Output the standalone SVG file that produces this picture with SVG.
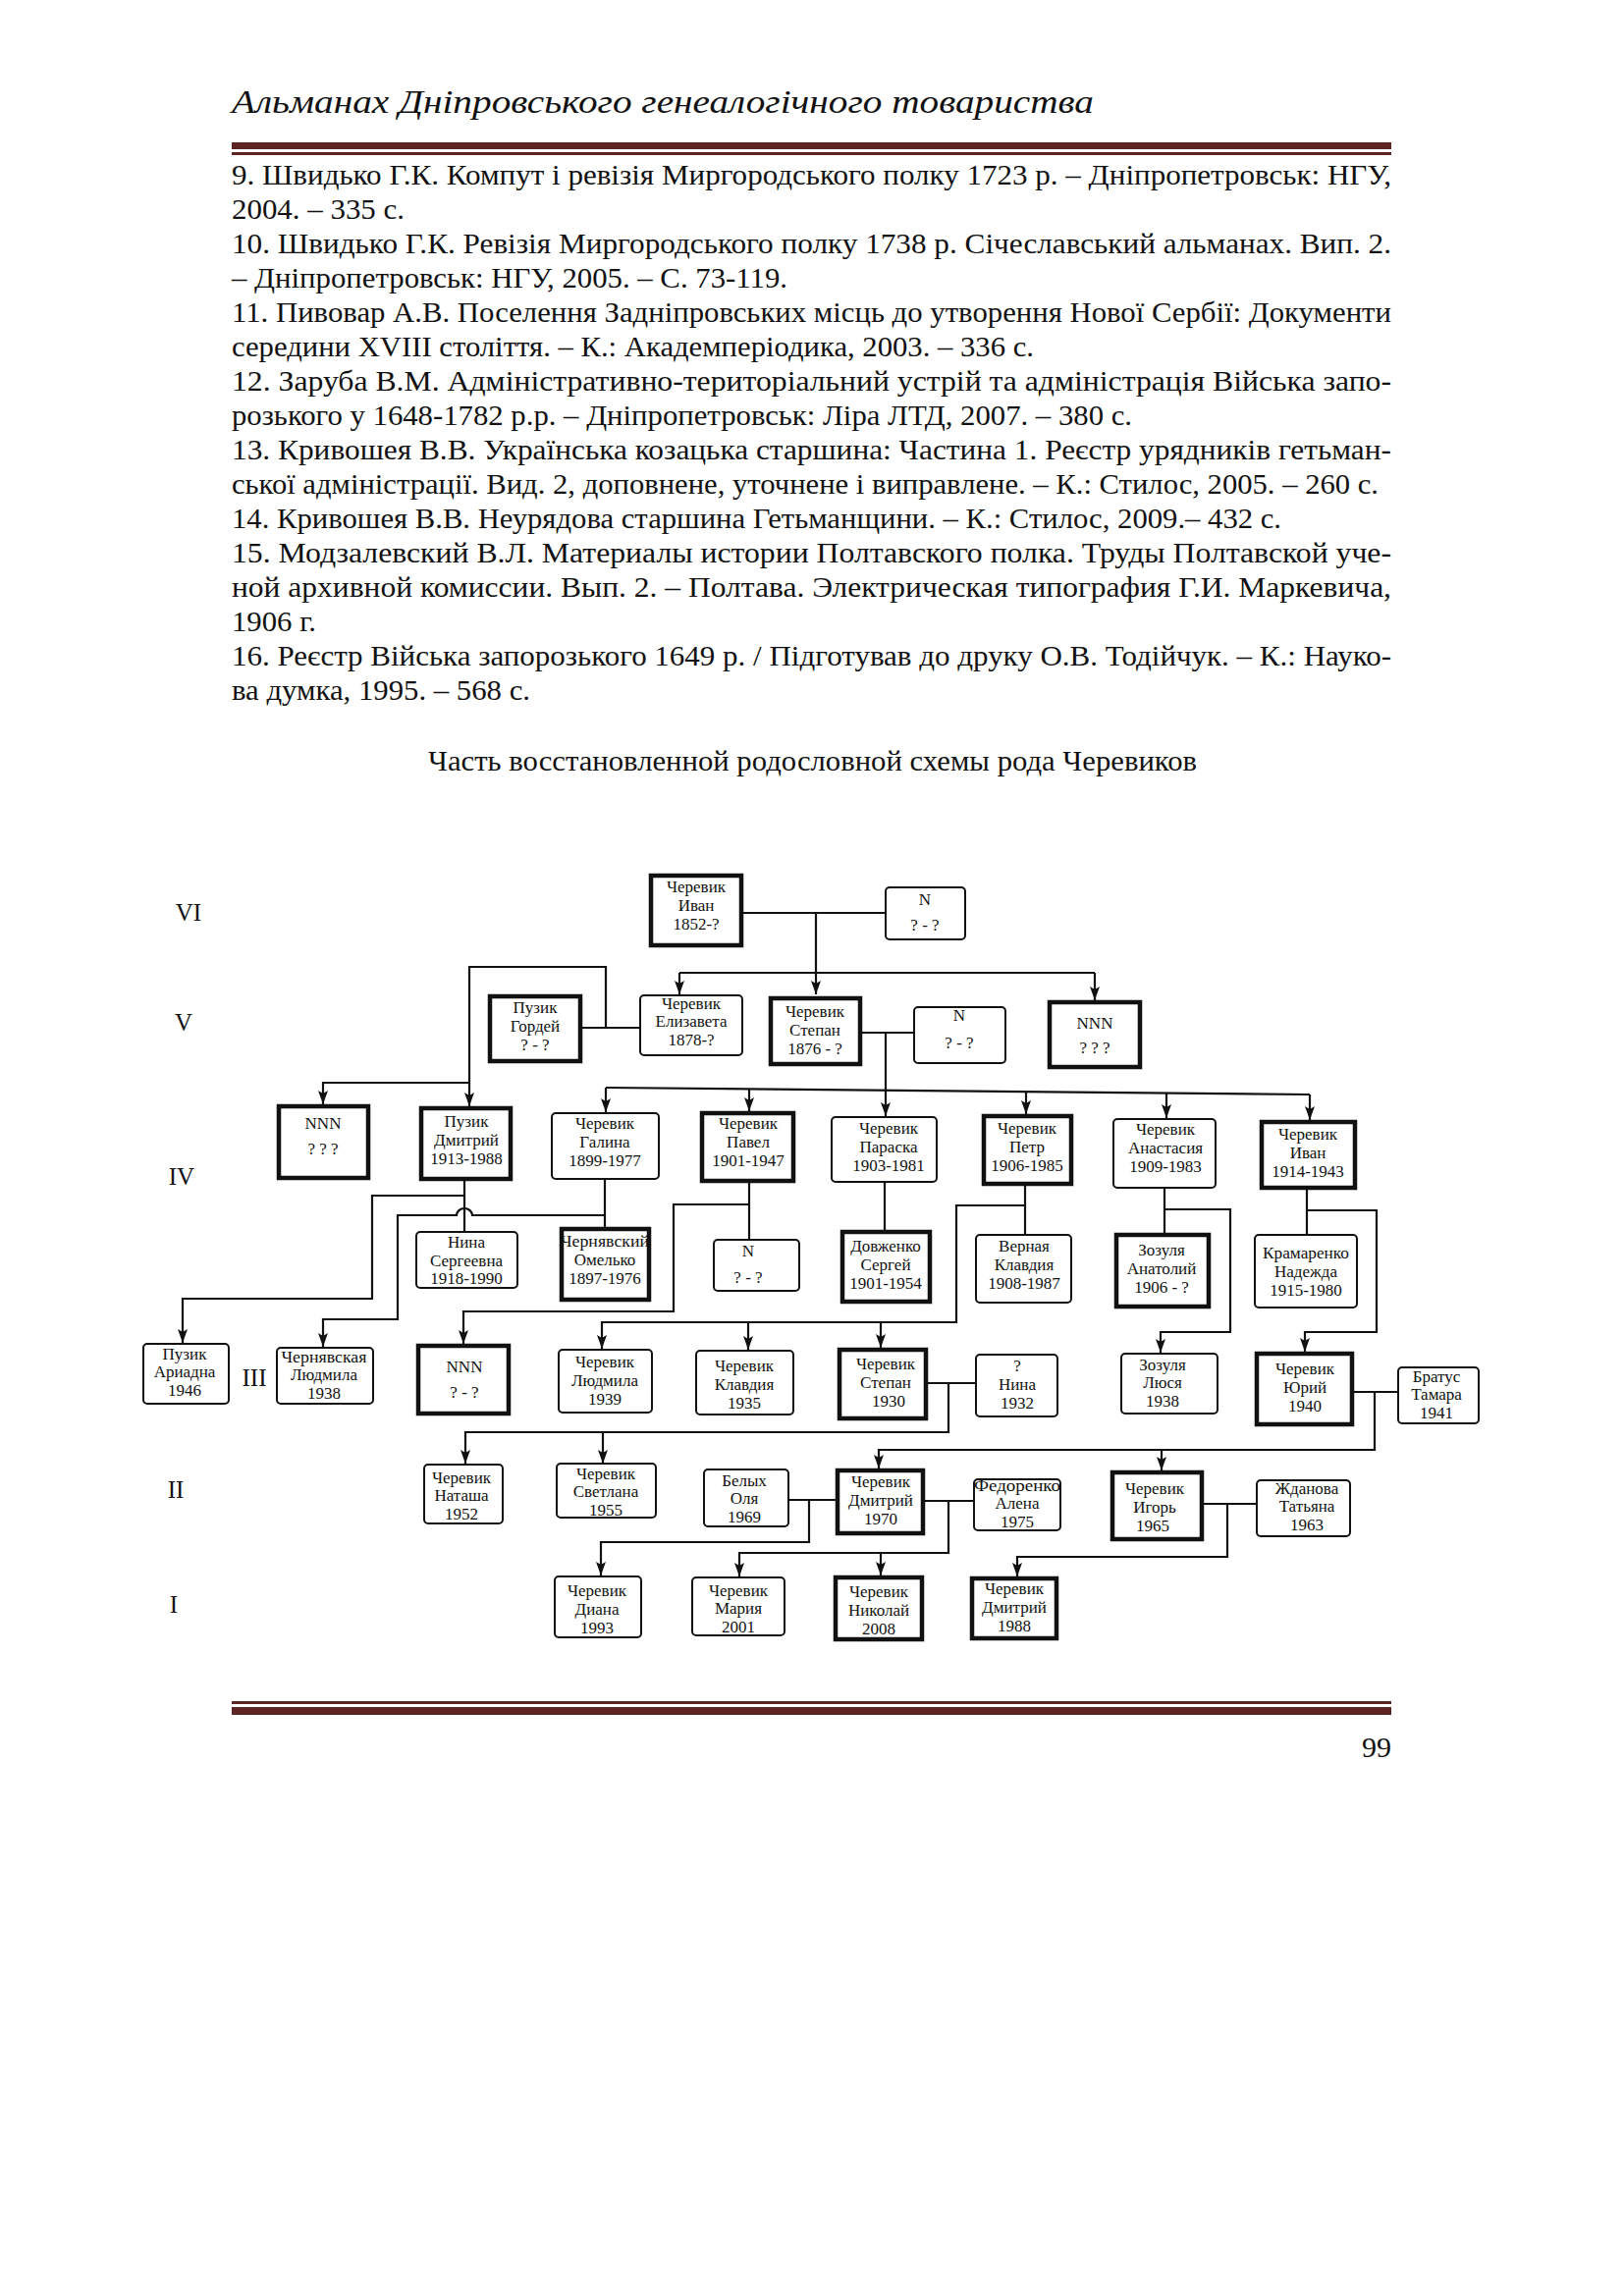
<svg xmlns="http://www.w3.org/2000/svg" width="1654" height="2339" viewBox="0 0 1654 2339">
<style>
.t{font-family:"Liberation Serif","Times New Roman",serif;fill:#111}
.hd{font-size:34px;font-style:italic}
.b{font-size:30px}
.n{font-size:17px;text-anchor:middle}
.rn{font-size:25px;text-anchor:middle}
.bx{fill:#fff;stroke:#111;stroke-width:2}
.bk{fill:#fff;stroke:#111;stroke-width:4.5}
.c{fill:none;stroke:#111;stroke-width:2.2}
.a{marker-end:url(#arr)}
.rule{fill:#5e2424}
</style>
<defs>
<marker id="arr" viewBox="0 0 14 10" refX="14" refY="5" markerWidth="14" markerHeight="10" markerUnits="userSpaceOnUse" orient="auto">
<path d="M0,0 L14,5 L0,10 L3,5 z" fill="#111"/>
</marker>
</defs>
<rect width="1654" height="2339" fill="#fff"/>

<g id="page-header">
<text class="t hd" x="236" y="115" textLength="878" lengthAdjust="spacingAndGlyphs">Альманах Дніпровського генеалогічного товариства</text>
<rect class="rule" x="236" y="145" width="1181" height="7"/>
<rect class="rule" x="236" y="155" width="1181" height="3"/>
</g>

<g id="references" class="t b">
<text x="236" y="188" textLength="1181" lengthAdjust="spacingAndGlyphs">9. Швидько Г.К. Компут і ревізія Миргородського полку 1723 р. – Дніпропетровськ: НГУ,</text>
<text x="236" y="223" textLength="176" lengthAdjust="spacingAndGlyphs">2004. – 335 с.</text>
<text x="236" y="258" textLength="1181" lengthAdjust="spacingAndGlyphs">10. Швидько Г.К. Ревізія Миргородського полку 1738 р. Січеславський альманах. Вип. 2.</text>
<text x="236" y="293" textLength="566" lengthAdjust="spacingAndGlyphs">– Дніпропетровськ: НГУ, 2005. – С. 73-119.</text>
<text x="236" y="328" textLength="1181" lengthAdjust="spacingAndGlyphs">11. Пивовар А.В. Поселення Задніпровських місць до утворення Нової Сербії: Документи</text>
<text x="236" y="363" textLength="817" lengthAdjust="spacingAndGlyphs">середини XVIII століття. – К.: Академперіодика, 2003. – 336 с.</text>
<text x="236" y="398" textLength="1181" lengthAdjust="spacingAndGlyphs">12. Заруба В.М. Адміністративно-територіальний устрій та адміністрація Війська запо-</text>
<text x="236" y="433" textLength="917" lengthAdjust="spacingAndGlyphs">розького у 1648-1782 р.р. – Дніпропетровськ: Ліра ЛТД, 2007. – 380 с.</text>
<text x="236" y="468" textLength="1181" lengthAdjust="spacingAndGlyphs">13. Кривошея В.В. Українська козацька старшина: Частина 1. Реєстр урядників гетьман-</text>
<text x="236" y="503" textLength="1168" lengthAdjust="spacingAndGlyphs">ської адміністрації. Вид. 2, доповнене, уточнене і виправлене. – К.: Стилос, 2005. – 260 с.</text>
<text x="236" y="538" textLength="1069" lengthAdjust="spacingAndGlyphs">14. Кривошея В.В. Неурядова старшина Гетьманщини. – К.: Стилос, 2009.– 432 с.</text>
<text x="236" y="573" textLength="1181" lengthAdjust="spacingAndGlyphs">15. Модзалевский В.Л. Материалы истории Полтавского полка. Труды Полтавской уче-</text>
<text x="236" y="608" textLength="1181" lengthAdjust="spacingAndGlyphs">ной архивной комиссии. Вып. 2. – Полтава. Электрическая типография Г.И. Маркевича,</text>
<text x="236" y="643" textLength="86" lengthAdjust="spacingAndGlyphs">1906 г.</text>
<text x="236" y="678" textLength="1181" lengthAdjust="spacingAndGlyphs">16. Реєстр Війська запорозького 1649 р. / Підготував до друку О.В. Тодійчук. – К.: Науко-</text>
<text x="236" y="713" textLength="304" lengthAdjust="spacingAndGlyphs">ва думка, 1995. – 568 с.</text>
</g>

<g id="caption">
<text class="t b" x="436" y="785" textLength="783" lengthAdjust="spacingAndGlyphs">Часть восстановленной родословной схемы рода Черевиков</text>
</g>

<g id="generations" class="t rn">
<text x="192" y="938">VI</text>
<text x="187" y="1050">V</text>
<text x="185" y="1207">IV</text>
<text x="259" y="1412">III</text>
<text x="179" y="1526">II</text>
<text x="177" y="1643">I</text>
</g>

<g id="connectors" class="c">
<path d="M757,930 H901"/>
<path class="a" d="M831,930 V1013"/>
<path d="M692,991 H1115"/>
<path class="a" d="M692,991 V1013"/>
<path class="a" d="M1115,991 V1019"/>
<path d="M593,1047 H651"/>
<path class="a" d="M617,1047 V985 H478 V1127"/>
<path class="a" d="M478,1103 H329 V1125"/>
<path d="M878,1052 H930"/>
<path class="a" d="M902,1052 V1137"/>
<path d="M617,1108 L1334,1115"/>
<path class="a" d="M617,1108 V1133"/>
<path class="a" d="M763,1110 V1132"/>
<path class="a" d="M1045,1112 V1135"/>
<path class="a" d="M1188,1113 V1139"/>
<path class="a" d="M1334,1115 V1141"/>
<path d="M473,1203 V1254"/>
<path class="a" d="M473,1218 H379 V1323 H186 V1368"/>
<path d="M616,1202 V1250"/>
<path class="a" d="M616,1238 H481 A8,7 0 0 0 465,1238 H405 V1344 H329 V1372"/>
<path d="M763,1205 V1262"/>
<path class="a" d="M763,1227 H686 V1336 H472 V1369"/>
<path d="M901,1205 V1253"/>
<path d="M1044,1208 V1257"/>
<path class="a" d="M1044,1228 H974 V1347 H613 V1374"/>
<path class="a" d="M762,1347 V1375"/>
<path class="a" d="M897,1347 V1373"/>
<path d="M1186,1211 V1256"/>
<path class="a" d="M1186,1232 H1253 V1357 H1182 V1378"/>
<path d="M1331,1212 V1257"/>
<path class="a" d="M1331,1233 H1402 V1357 H1329 V1377"/>
<path d="M945,1409 H993"/>
<path class="a" d="M966,1409 V1459 H474 V1491"/>
<path class="a" d="M614,1459 V1491"/>
<path d="M1379,1418 H1423"/>
<path class="a" d="M1400,1418 V1477 H895 V1496"/>
<path class="a" d="M1183,1477 V1498"/>
<path d="M804,1528 H851"/>
<path class="a" d="M824,1528 V1571 H612 V1605"/>
<path d="M942,1529 H991"/>
<path class="a" d="M966,1529 V1582 H753 V1606"/>
<path class="a" d="M897,1582 V1605"/>
<path d="M1226,1532 H1279"/>
<path class="a" d="M1250,1532 V1586 H1036 V1606"/>
</g>

<g id="n-ivan-1852"><rect class="bk" x="663" y="892" width="92" height="71"/>
<text class="t n"><tspan x="709" y="909">Черевик</tspan><tspan x="709" y="928">Иван</tspan><tspan x="709" y="947">1852-?</tspan></text></g>
<g id="n-n-vi"><rect class="bx" x="902" y="904" width="81" height="53" rx="4"/>
<text class="t n"><tspan x="942" y="922">N</tspan><tspan x="942" y="948">? - ?</tspan></text></g>

<g id="n-pyzik-gordey"><rect class="bk" x="499" y="1015" width="92" height="66"/>
<text class="t n"><tspan x="545" y="1032">Пузик</tspan><tspan x="545" y="1051">Гордей</tspan><tspan x="545" y="1070">? - ?</tspan></text></g>
<g id="n-elizaveta"><rect class="bx" x="652" y="1014" width="104" height="61" rx="4"/>
<text class="t n"><tspan x="704" y="1027.5">Черевик</tspan><tspan x="704" y="1046">Елизавета</tspan><tspan x="704" y="1064.5">1878-?</tspan></text></g>
<g id="n-stepan-1876"><rect class="bk" x="785" y="1017" width="91" height="67"/>
<text class="t n"><tspan x="830" y="1036">Черевик</tspan><tspan x="830" y="1055">Степан</tspan><tspan x="830" y="1074">1876 - ?</tspan></text></g>
<g id="n-n-v"><rect class="bx" x="931" y="1026" width="93" height="57" rx="4"/>
<text class="t n"><tspan x="977" y="1040">N</tspan><tspan x="977" y="1068">? - ?</tspan></text></g>
<g id="n-nnn-v"><rect class="bk" x="1069" y="1021" width="92" height="66"/>
<text class="t n"><tspan x="1115" y="1048">NNN</tspan><tspan x="1115" y="1073">? ? ?</tspan></text></g>

<g id="n-nnn-iv"><rect class="bk" x="284" y="1127" width="91" height="73"/>
<text class="t n"><tspan x="329" y="1150">NNN</tspan><tspan x="329" y="1176">? ? ?</tspan></text></g>
<g id="n-pyzik-dmitriy"><rect class="bk" x="429" y="1129" width="91" height="72"/>
<text class="t n"><tspan x="475" y="1148">Пузик</tspan><tspan x="475" y="1167">Дмитрий</tspan><tspan x="475" y="1186">1913-1988</tspan></text></g>
<g id="n-galina"><rect class="bx" x="562" y="1134" width="109" height="67" rx="4"/>
<text class="t n"><tspan x="616" y="1150">Черевик</tspan><tspan x="616" y="1169">Галина</tspan><tspan x="616" y="1188">1899-1977</tspan></text></g>
<g id="n-pavel"><rect class="bk" x="715" y="1134" width="93" height="69"/>
<text class="t n"><tspan x="762" y="1150">Черевик</tspan><tspan x="762" y="1169">Павел</tspan><tspan x="762" y="1188">1901-1947</tspan></text></g>
<g id="n-paraska"><rect class="bx" x="847" y="1138" width="107" height="66" rx="4"/>
<text class="t n"><tspan x="905" y="1155">Черевик</tspan><tspan x="905" y="1174">Параска</tspan><tspan x="905" y="1193">1903-1981</tspan></text></g>
<g id="n-petr"><rect class="bk" x="1002" y="1137" width="89" height="69"/>
<text class="t n"><tspan x="1046" y="1155">Черевик</tspan><tspan x="1046" y="1174">Петр</tspan><tspan x="1046" y="1193">1906-1985</tspan></text></g>
<g id="n-anastasiya"><rect class="bx" x="1134" y="1140" width="104" height="70" rx="4"/>
<text class="t n"><tspan x="1187" y="1156">Черевик</tspan><tspan x="1187" y="1175">Анастасия</tspan><tspan x="1187" y="1194">1909-1983</tspan></text></g>
<g id="n-ivan-1914"><rect class="bk" x="1285" y="1143" width="95" height="67"/>
<text class="t n"><tspan x="1332" y="1161">Черевик</tspan><tspan x="1332" y="1180">Иван</tspan><tspan x="1332" y="1199">1914-1943</tspan></text></g>

<g id="n-nina-sergeevna"><rect class="bx" x="424" y="1255" width="103" height="57" rx="4"/>
<text class="t n"><tspan x="475" y="1271">Нина</tspan><tspan x="475" y="1289.5">Сергеевна</tspan><tspan x="475" y="1308">1918-1990</tspan></text></g>
<g id="n-omelko"><rect class="bk" x="572" y="1252" width="89" height="72"/>
<text class="t n"><tspan x="616" y="1270" textLength="90" lengthAdjust="spacingAndGlyphs">Чернявский</tspan><tspan x="616" y="1289">Омелько</tspan><tspan x="616" y="1308">1897-1976</tspan></text></g>
<g id="n-n-iv"><rect class="bx" x="727" y="1263" width="87" height="52" rx="4"/>
<text class="t n"><tspan x="762" y="1280">N</tspan><tspan x="762" y="1307">? - ?</tspan></text></g>
<g id="n-dovzhenko"><rect class="bk" x="858" y="1255" width="89" height="71"/>
<text class="t n"><tspan x="902" y="1275">Довженко</tspan><tspan x="902" y="1294">Сергей</tspan><tspan x="902" y="1313">1901-1954</tspan></text></g>
<g id="n-vernaya"><rect class="bx" x="994" y="1258" width="97" height="69" rx="4"/>
<text class="t n"><tspan x="1043" y="1275">Верная</tspan><tspan x="1043" y="1294">Клавдия</tspan><tspan x="1043" y="1313">1908-1987</tspan></text></g>
<g id="n-zozulya-anatoliy"><rect class="bk" x="1137" y="1258" width="94" height="73"/>
<text class="t n"><tspan x="1183" y="1279">Зозуля</tspan><tspan x="1183" y="1298">Анатолий</tspan><tspan x="1183" y="1317">1906 - ?</tspan></text></g>
<g id="n-kramarenko"><rect class="bx" x="1278" y="1258" width="104" height="74" rx="4"/>
<text class="t n"><tspan x="1330" y="1282" textLength="88" lengthAdjust="spacingAndGlyphs">Крамаренко</tspan><tspan x="1330" y="1301">Надежда</tspan><tspan x="1330" y="1320">1915-1980</tspan></text></g>

<g id="n-ariadna"><rect class="bx" x="146" y="1369" width="87" height="61" rx="4"/>
<text class="t n"><tspan x="188" y="1384.5">Пузик</tspan><tspan x="188" y="1403">Ариадна</tspan><tspan x="188" y="1421.5">1946</tspan></text></g>
<g id="n-chernyavskaya-lyudmila"><rect class="bx" x="282" y="1373" width="98" height="57" rx="4"/>
<text class="t n"><tspan x="330" y="1387.5" textLength="87" lengthAdjust="spacingAndGlyphs">Чернявская</tspan><tspan x="330" y="1406">Людмила</tspan><tspan x="330" y="1424.5">1938</tspan></text></g>
<g id="n-nnn-iii"><rect class="bk" x="426" y="1371" width="92" height="69"/>
<text class="t n"><tspan x="473" y="1398">NNN</tspan><tspan x="473" y="1424">? - ?</tspan></text></g>
<g id="n-lyudmila"><rect class="bx" x="569" y="1375" width="95" height="64" rx="4"/>
<text class="t n"><tspan x="616" y="1393">Черевик</tspan><tspan x="616" y="1412">Людмила</tspan><tspan x="616" y="1431">1939</tspan></text></g>
<g id="n-klavdiya"><rect class="bx" x="709" y="1376" width="99" height="65" rx="4"/>
<text class="t n"><tspan x="758" y="1397">Черевик</tspan><tspan x="758" y="1416">Клавдия</tspan><tspan x="758" y="1435">1935</tspan></text></g>
<g id="n-stepan-1930"><rect class="bk" x="855" y="1375" width="88" height="70"/>
<text class="t n"><tspan x="902" y="1395">Черевик</tspan><tspan x="902" y="1414">Степан</tspan><tspan x="905" y="1433">1930</tspan></text></g>
<g id="n-nina-1932"><rect class="bx" x="994" y="1380" width="83" height="63" rx="4"/>
<text class="t n"><tspan x="1036" y="1397">?</tspan><tspan x="1036" y="1416">Нина</tspan><tspan x="1036" y="1435">1932</tspan></text></g>
<g id="n-zozulya-lyusya"><rect class="bx" x="1142" y="1379" width="98" height="61" rx="4"/>
<text class="t n"><tspan x="1184" y="1395.5">Зозуля</tspan><tspan x="1184" y="1414">Люся</tspan><tspan x="1184" y="1432.5">1938</tspan></text></g>
<g id="n-yuriy"><rect class="bk" x="1280" y="1379" width="97" height="72"/>
<text class="t n"><tspan x="1329" y="1400">Черевик</tspan><tspan x="1329" y="1419">Юрий</tspan><tspan x="1329" y="1438">1940</tspan></text></g>
<g id="n-bratus"><rect class="bx" x="1424" y="1393" width="82" height="57" rx="4"/>
<text class="t n"><tspan x="1463" y="1407.5">Братус</tspan><tspan x="1463" y="1426">Тамара</tspan><tspan x="1463" y="1444.5">1941</tspan></text></g>

<g id="n-natasha"><rect class="bx" x="432" y="1492" width="80" height="60" rx="4"/>
<text class="t n"><tspan x="470" y="1510.5">Черевик</tspan><tspan x="470" y="1529">Наташа</tspan><tspan x="470" y="1547.5">1952</tspan></text></g>
<g id="n-svetlana"><rect class="bx" x="567" y="1491" width="101" height="55" rx="4"/>
<text class="t n"><tspan x="617" y="1506.5">Черевик</tspan><tspan x="617" y="1525">Светлана</tspan><tspan x="617" y="1543.5">1955</tspan></text></g>
<g id="n-olya"><rect class="bx" x="717" y="1497" width="86" height="58" rx="4"/>
<text class="t n"><tspan x="758" y="1513.5">Белых</tspan><tspan x="758" y="1532">Оля</tspan><tspan x="758" y="1550.5">1969</tspan></text></g>
<g id="n-dmitriy-1970"><rect class="bk" x="853" y="1498" width="87" height="64"/>
<text class="t n"><tspan x="897" y="1515">Черевик</tspan><tspan x="897" y="1534">Дмитрий</tspan><tspan x="897" y="1553">1970</tspan></text></g>
<g id="n-fedorenko"><rect class="bx" x="992" y="1507" width="88" height="52" rx="4"/>
<text class="t n"><tspan x="1036" y="1518.5" textLength="88" lengthAdjust="spacingAndGlyphs">Федоренко</tspan><tspan x="1036" y="1537">Алена</tspan><tspan x="1036" y="1555.5">1975</tspan></text></g>
<g id="n-igor"><rect class="bk" x="1133" y="1500" width="91" height="68"/>
<text class="t n"><tspan x="1176" y="1522">Черевик</tspan><tspan x="1176" y="1541">Игорь</tspan><tspan x="1174" y="1560">1965</tspan></text></g>
<g id="n-zhdanova"><rect class="bx" x="1280" y="1508" width="95" height="57" rx="4"/>
<text class="t n"><tspan x="1331" y="1521.5">Жданова</tspan><tspan x="1331" y="1540">Татьяна</tspan><tspan x="1331" y="1558.5">1963</tspan></text></g>

<g id="n-diana"><rect class="bx" x="565" y="1606" width="88" height="62" rx="4"/>
<text class="t n"><tspan x="608" y="1626">Черевик</tspan><tspan x="608" y="1645">Диана</tspan><tspan x="608" y="1664">1993</tspan></text></g>
<g id="n-mariya"><rect class="bx" x="705" y="1607" width="94" height="59" rx="4"/>
<text class="t n"><tspan x="752" y="1625.5">Черевик</tspan><tspan x="752" y="1644">Мария</tspan><tspan x="752" y="1662.5">2001</tspan></text></g>
<g id="n-nikolay"><rect class="bk" x="851" y="1607" width="88" height="63"/>
<text class="t n"><tspan x="895" y="1627">Черевик</tspan><tspan x="895" y="1646">Николай</tspan><tspan x="895" y="1665">2008</tspan></text></g>
<g id="n-dmitriy-1988"><rect class="bk" x="990" y="1608" width="86" height="61"/>
<text class="t n"><tspan x="1033" y="1624">Черевик</tspan><tspan x="1033" y="1643">Дмитрий</tspan><tspan x="1033" y="1662">1988</tspan></text></g>

<g id="page-footer">
<rect class="rule" x="236" y="1733" width="1181" height="3"/>
<rect class="rule" x="236" y="1739" width="1181" height="8"/>
<text class="t b" x="1417" y="1790" text-anchor="end">99</text>
</g>
</svg>
